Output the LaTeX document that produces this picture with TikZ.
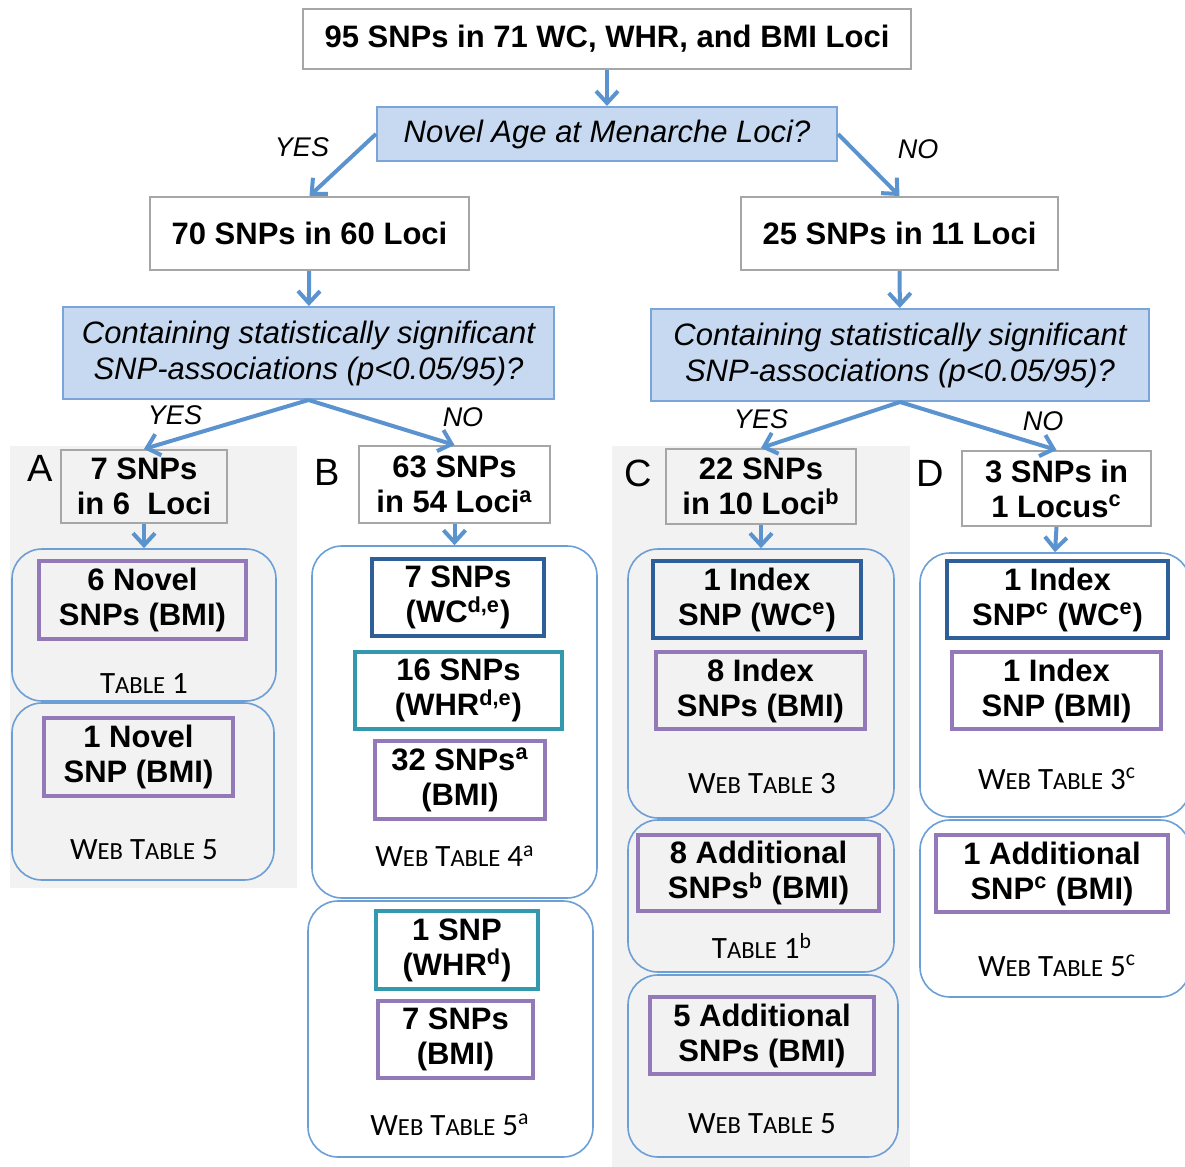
\documentclass[tikz,border=0pt]{standalone}
\usepackage{fontspec}
\setmainfont{Liberation Sans}
\newfontfamily\capfont{Carlito}
\usetikzlibrary{arrows.meta}

\definecolor{flowblue}{HTML}{5B93CF}
\definecolor{askfill}{HTML}{C6D9F1}
\definecolor{askline}{HTML}{7BA5D8}
\definecolor{boxgray}{HTML}{A6A6A6}
\definecolor{panelgray}{HTML}{F2F2F2}
\definecolor{holdblue}{HTML}{6C9FD6}
\definecolor{bmipurple}{HTML}{9479B8}
\definecolor{wcblue}{HTML}{2F5F98}
\definecolor{whrteal}{HTML}{3399AE}

% small capitals for the table captions
\newcommand{\lowcap}[1]{{\fontsize{12.3pt}{12pt}\selectfont #1}}

\tikzset{
  flow/.style={->, >={Straight Barb[length=6pt,width=11pt]}, line width=2pt, flowblue},
  plainbox/.style={draw=boxgray, line width=1pt, align=center, inner sep=0pt,
    font=\bfseries\fontsize{15.5}{17.5}\selectfont},
  askbox/.style={draw=askline, fill=askfill, line width=1pt, align=center, inner sep=0pt,
    font=\itshape\fontsize{15.5}{18}\selectfont},
  holder/.style={draw=holdblue, line width=0.8pt, rounded corners=15pt, inner sep=0pt},
  snpbox/.style={draw=#1, line width=2pt, align=center, inner sep=0pt,
    font=\bfseries\fontsize{15.5}{17.5}\selectfont},
  tabcap/.style={font=\capfont\fontsize{15.5}{15}\selectfont},
  branch/.style={font=\itshape\fontsize{13.5}{13.5}\selectfont},
  letter/.style={font=\fontsize{19}{19}\selectfont}
}

\begin{document}
\begin{tikzpicture}[x=0.5pt, y=-0.5pt]
  \useasboundingbox (0,0) rectangle (1185,1167);

  % grey panels behind A and C
  \fill[panelgray] (10,446) rectangle (297,888);
  \fill[panelgray] (612,446) rectangle (910,1167);

  % top of the tree
  \node[plainbox, minimum width=304pt, minimum height=30pt] (top) at (607,39)
    {95 SNPs in 71 WC, WHR, and BMI Loci};
  \node[askbox, minimum width=230pt, minimum height=27pt] (q1) at (607,134)
    {Novel Age at Menarche Loci?};
  \node[plainbox, minimum width=159.5pt, minimum height=36.5pt] (n70) at (309.5,233.5)
    {70 SNPs in 60 Loci};
  \node[plainbox, minimum width=158.5pt, minimum height=36.5pt] (n25) at (899.5,233.5)
    {25 SNPs in 11 Loci};
  \node[askbox, minimum width=245.5pt, minimum height=46pt] (sig1) at (308.5,353)
    {Containing statistically significant\\SNP-associations (p<0.05/95)?};
  \node[askbox, minimum width=249pt, minimum height=46pt] (sig2) at (900,355)
    {Containing statistically significant\\SNP-associations (p<0.05/95)?};

  \node[branch] (yes1) at (302,147) {YES};
  \node[branch] (no1) at (918,149) {NO};
  \node[branch] (yes2) at (175,415) {YES};
  \node[branch] (no2) at (463,417) {NO};
  \node[branch] (yes3) at (761,419) {YES};
  \node[branch] (no3) at (1043,421) {NO};

  % group headers
  \node[letter] (labA) at (40,468) {A};
  \node[letter] (labB) at (327,472) {B};
  \node[letter] (labC) at (638,473) {C};
  \node[letter] (labD) at (930,473) {D};
  \node[plainbox, minimum width=83pt, minimum height=36.5pt] (hA) at (144,486.5)
    {7 SNPs\\in 6\ \ Loci};
  \node[plainbox, minimum width=95.5pt, minimum height=38.5pt] (hB) at (454.5,484.5)
    {63 SNPs\\in 54 Loci\textsuperscript{a}};
  \node[plainbox, minimum width=95pt, minimum height=37.5pt] (hC) at (761,486.5)
    {22 SNPs\\in 10 Loci\textsuperscript{b}};
  \node[plainbox, minimum width=94.5pt, minimum height=37.5pt] (hD) at (1056.5,488.5)
    {3 SNPs in\\1 Locus\textsuperscript{c}};

  % rounded holders
  \node[holder, fill=panelgray, minimum width=132pt, minimum height=76pt] (A1) at (144,625) {};
  \node[holder, fill=panelgray, minimum width=131pt, minimum height=88.5pt] (A2) at (143,791.5) {};
  \node[holder, fill=white, minimum width=142.5pt, minimum height=176pt] (B1) at (454.5,722) {};
  \node[holder, fill=white, minimum width=142.5pt, minimum height=128pt] (B2) at (450.5,1029) {};
  \node[holder, fill=panelgray, minimum width=133pt, minimum height=134.5pt] (C1) at (761,683.5) {};
  \node[holder, fill=panelgray, minimum width=133pt, minimum height=76pt] (C2) at (761,896) {};
  \node[holder, fill=panelgray, minimum width=135pt, minimum height=91pt] (C3) at (763,1066) {};
  \node[holder, fill=white, minimum width=135pt, minimum height=132pt] (D1) at (1055,685) {};
  \node[holder, fill=white, minimum width=135pt, minimum height=88.5pt] (D2) at (1055,908.5) {};

  % A
  \node[snpbox=bmipurple, minimum width=103.5pt, minimum height=39pt] (a1) at (142.5,600)
    {6 Novel\\SNPs (BMI)};
  \node[tabcap] (capA1) at (144,684) {T\lowcap{ABLE} 1};
  \node[snpbox=bmipurple, minimum width=94.5pt, minimum height=39pt] (a2) at (138.5,757)
    {1 Novel\\SNP (BMI)};
  \node[tabcap] (capA2) at (144,850) {W\lowcap{EB} T\lowcap{ABLE} 5};

  % B
  \node[snpbox=wcblue, minimum width=86pt, minimum height=38.5pt] (b1) at (458,597.5)
    {7 SNPs\\(WC\textsuperscript{d,e})};
  \node[snpbox=whrteal, minimum width=103.5pt, minimum height=38.5pt] (b2) at (458.5,690.5)
    {16 SNPs\\(WHR\textsuperscript{d,e})};
  \node[snpbox=bmipurple, minimum width=85pt, minimum height=39pt] (b3) at (460,780)
    {32 SNPs\textsuperscript{a}\\(BMI)};
  \node[tabcap] (capB1) at (455,856) {W\lowcap{EB} T\lowcap{ABLE} 4\textsuperscript{a}};
  \node[snpbox=whrteal, minimum width=81pt, minimum height=39pt] (b4) at (457,950)
    {1 SNP\\(WHR\textsuperscript{d})};
  \node[snpbox=bmipurple, minimum width=77.5pt, minimum height=38.5pt] (b5) at (455.5,1039.5)
    {7 SNPs\\(BMI)};
  \node[tabcap] (capB2) at (450,1125) {W\lowcap{EB} T\lowcap{ABLE} 5\textsuperscript{a}};

  % C
  \node[snpbox=wcblue, minimum width=104pt, minimum height=38.5pt] (c1) at (757,599.5)
    {1 Index\\SNP (WC\textsuperscript{e})};
  \node[snpbox=bmipurple, minimum width=104.5pt, minimum height=38.5pt] (c2) at (760.5,690.5)
    {8 Index\\SNPs (BMI)};
  \node[tabcap] (capC1) at (762,784) {W\lowcap{EB} T\lowcap{ABLE} 3};
  \node[snpbox=bmipurple, minimum width=120.5pt, minimum height=38pt] (c3) at (758.5,873)
    {8 Additional\\SNPs\textsuperscript{b} (BMI)};
  \node[tabcap] (capC2) at (762,946) {T\lowcap{ABLE} 1\textsuperscript{b}};
  \node[snpbox=bmipurple, minimum width=112pt, minimum height=38.5pt] (c4) at (762,1035.5)
    {5 Additional\\SNPs (BMI)};
  \node[tabcap] (capC3) at (762,1124) {W\lowcap{EB} T\lowcap{ABLE} 5};

  % D
  \node[snpbox=wcblue, minimum width=110.5pt, minimum height=38.5pt] (d1) at (1057.5,599.5)
    {1 Index\\SNP\textsuperscript{c} (WC\textsuperscript{e})};
  \node[snpbox=bmipurple, minimum width=104.5pt, minimum height=38.5pt] (d2) at (1056.5,690.5)
    {1 Index\\SNP (BMI)};
  \node[tabcap] (capD1) at (1057,779) {W\lowcap{EB} T\lowcap{ABLE} 3\textsuperscript{c}};
  \node[snpbox=bmipurple, minimum width=116pt, minimum height=38.5pt] (d3) at (1052,873.5)
    {1 Additional\\SNP\textsuperscript{c} (BMI)};
  \node[tabcap] (capD2) at (1057,966) {W\lowcap{EB} T\lowcap{ABLE} 5\textsuperscript{c}};

  % connectors
  \draw[flow] (top) -- (q1);
  \draw[flow] (q1.west) -- (n70.north);
  \draw[flow] (q1.east) -- (n25.north);
  \draw[flow] (n70) -- (sig1);
  \draw[flow] (n25) -- (sig2);
  \draw[flow] (sig1.south) -- (hA.north);
  \draw[flow] (sig1.south) -- (hB.north);
  \draw[flow] (sig2.south) -- (hC.north);
  \draw[flow] (sig2.south) -- (hD.north);
  \draw[flow] (hA.south) -- (A1.north);
  \draw[flow] (hB.south) -- (B1.north);
  \draw[flow] (hC.south) -- (C1.north);
  \draw[flow] (hD.south) -- (D1.north);
\end{tikzpicture}
\end{document}
